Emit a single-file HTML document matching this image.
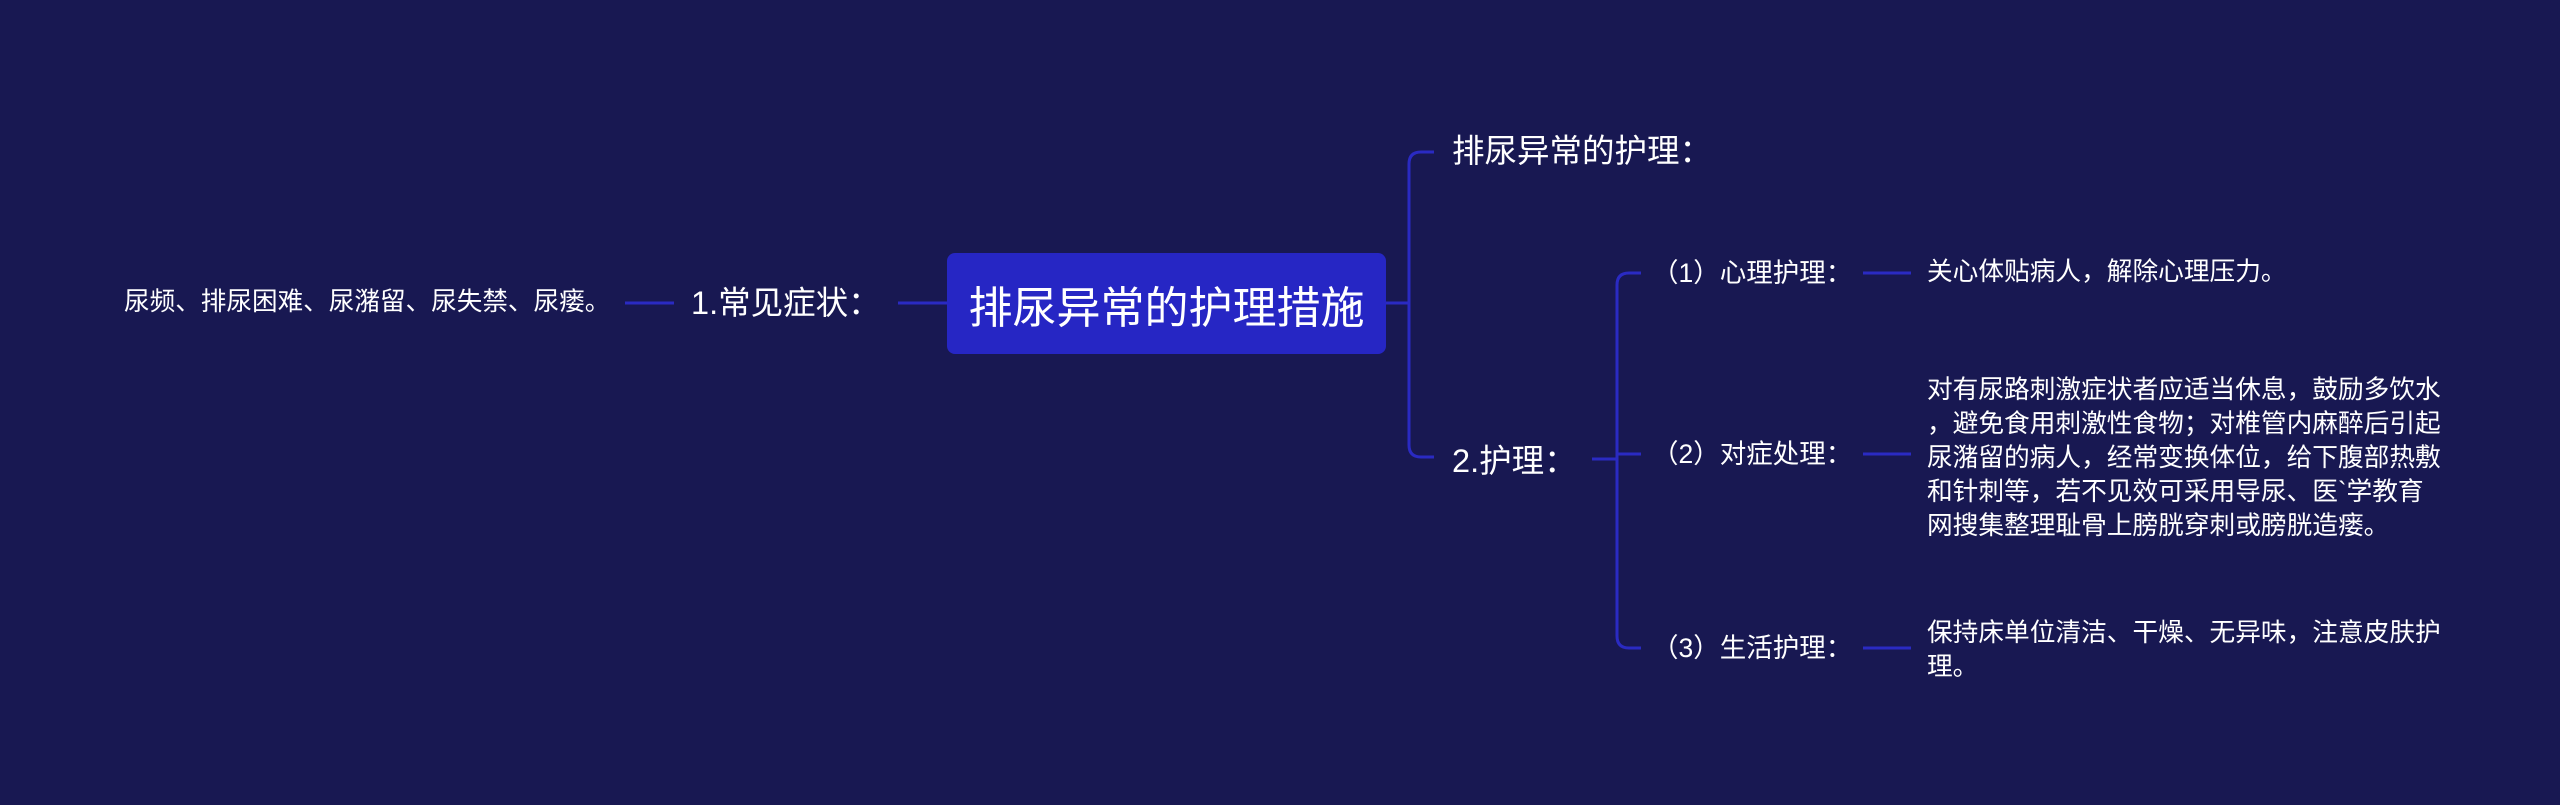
<!DOCTYPE html>
<html><head><meta charset="utf-8"><style>
html,body{margin:0;padding:0;}
body{width:2560px;height:805px;background:#181852;position:relative;overflow:hidden;font-family:"Liberation Sans","Noto Sans CJK SC",sans-serif;color:#fff;}
.t{position:absolute;white-space:nowrap;line-height:1;}
.node{position:absolute;left:947px;top:253px;width:439px;height:101px;background:#2626c4;border-radius:8px;display:flex;align-items:center;justify-content:center;font-size:44px;}
svg{position:absolute;left:0;top:0;}
</style></head><body>
<svg width="2560" height="805">
<g stroke="#2a2ac2" stroke-width="3" fill="none">
<line x1="625" y1="303" x2="674" y2="303"/>
<line x1="898" y1="303" x2="947" y2="303"/>
<line x1="1386" y1="303" x2="1409" y2="303"/>
<path d="M1434 152 H1421 Q1409 152 1409 164 V445 Q1409 457 1421 457 H1434"/>
<line x1="1592" y1="459" x2="1617" y2="459"/>
<path d="M1641 273 H1629 Q1617 273 1617 285 V636 Q1617 648 1629 648 H1641"/>
<line x1="1617" y1="454" x2="1641" y2="454"/>
<line x1="1863" y1="273" x2="1911" y2="273"/>
<line x1="1863" y1="454" x2="1911" y2="454"/>
<line x1="1863" y1="648" x2="1911" y2="648"/>
</g></svg>
<div class="t" style="left:124px;top:290px;font-size:25.6px;">尿频、排尿困难、尿潴留、尿失禁、尿瘘。</div>
<div class="t" style="left:691px;top:287px;font-size:32.5px;">1.常见症状：</div>
<div class="node">排尿异常的护理措施</div>
<div class="t" style="left:1452px;top:135px;font-size:32.5px;">排尿异常的护理：</div>
<div class="t" style="left:1452px;top:445px;font-size:32.5px;">2.护理：</div>
<div class="t" style="left:1652px;top:260px;font-size:26.5px;">（1）心理护理：</div>
<div class="t" style="left:1652px;top:441px;font-size:26.5px;">（2）对症处理：</div>
<div class="t" style="left:1652px;top:635px;font-size:26.5px;">（3）生活护理：</div>
<div class="t" style="left:1927px;top:260px;font-size:25.7px;">关心体贴病人，解除心理压力。</div>
<div class="t" style="left:1927px;top:373px;font-size:25.7px;line-height:34px;">对有尿路刺激症状者应适当休息，鼓励多饮水<br>，避免食用刺激性食物；对椎管内麻醉后引起<br>尿潴留的病人，经常变换体位，给下腹部热敷<br>和针刺等，若不见效可采用导尿、医`学教育<br>网搜集整理耻骨上膀胱穿刺或膀胱造瘘。</div>
<div class="t" style="left:1927px;top:616px;font-size:25.7px;line-height:34px;">保持床单位清洁、干燥、无异味，注意皮肤护<br>理。</div>
</body></html>
